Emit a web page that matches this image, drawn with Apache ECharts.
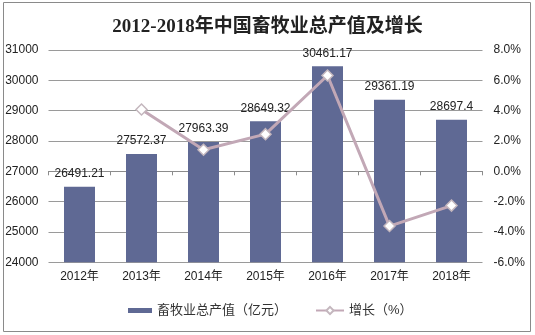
<!DOCTYPE html>
<html>
<head>
<meta charset="utf-8">
<script src="https://cdn.jsdelivr.net/npm/echarts@6/dist/echarts.min.js"></script>
<style>
  html, body { margin: 0; padding: 0; background: #fff; }
  #chart { width: 535px; height: 335px; }
</style>
</head>
<body>
<div id="chart"></div>
<script>
// Output value of China's animal husbandry, 2012-2018
const years = ['2012年', '2013年', '2014年', '2015年', '2016年', '2017年', '2018年'];
const outputValue = [26491.21, 27572.37, 27963.39, 28649.32, 30461.17, 29361.19, 28697.4];
const growthRate = [null, 4.08, 1.42, 2.45, 6.32, -3.61, -2.26];
const leftTicks = { min: 24000, max: 31000, step: 1000 };
const rightTicks = { min: -6, max: 8, step: 2 };

const barName = '畜牧业总产值（亿元）';
const lineName = '增长（%）';
const font = '"Liberation Sans", Arial, "Noto Sans CJK SC", sans-serif';
const chart = echarts.init(document.getElementById('chart'), null, { renderer: 'canvas' });

chart.setOption({
  backgroundColor: '#fff',
  animation: false,
  title: {
    text: '2012-2018年中国畜牧业总产值及增长',
    left: 'center',
    top: 13,
    textStyle: {
      fontFamily: '"Liberation Serif", "Times New Roman", "Noto Sans CJK SC", serif',
      fontWeight: 'bold',
      fontSize: 19,
      color: '#222'
    }
  },
  graphic: [{
    type: 'rect',
    shape: { x: 3.5, y: 2.5, width: 527, height: 329 },
    style: { fill: 'none', stroke: '#8a8a8a', lineWidth: 1 },
    silent: true
  }],
  legend: [
    {
      left: 128,
      top: 304,
      padding: 0,
      itemWidth: 24,
      itemHeight: 5,
      icon: 'rect',
      textStyle: { fontFamily: font, fontSize: 13, color: '#333' },
      data: [barName]
    },
    {
      left: 315,
      top: 304,
      padding: 0,
      itemWidth: 28,
      itemHeight: 9,
      textStyle: { fontFamily: font, fontSize: 13, color: '#333' },
      data: [lineName]
    }
  ],
  grid: { left: 48.5, right: 52.5, top: 50, bottom: 72.7 },
  xAxis: {
    type: 'category',
    data: years,
    axisLine: { lineStyle: { color: '#8c8c8c', width: 1 } },
    axisTick: { show: true, length: 4, lineStyle: { color: '#8c8c8c' } },
    axisLabel: { fontFamily: font, fontSize: 12, color: '#222', margin: 8 }
  },
  yAxis: [
    {
      type: 'value',
      min: leftTicks.min,
      max: leftTicks.max,
      interval: leftTicks.step,
      axisLine: { show: false },
      axisTick: { show: false },
      splitLine: { lineStyle: { color: '#9a9a9a', width: 1 } },
      axisLabel: {
        fontFamily: font, fontSize: 12, color: '#222', margin: 10,
        formatter: v => String(v)
      }
    },
    {
      type: 'value',
      min: rightTicks.min,
      max: rightTicks.max,
      interval: rightTicks.step,
      axisLine: { show: false },
      axisTick: { show: false },
      splitLine: { show: false },
      axisLabel: {
        fontFamily: font, fontSize: 12, color: '#222', margin: 11,
        formatter: v => v.toFixed(1) + '%'
      }
    }
  ],
  series: [
    {
      name: barName,
      type: 'bar',
      yAxisIndex: 0,
      barWidth: '50%',
      data: outputValue,
      itemStyle: { color: '#5f6994' },
      label: {
        show: true,
        position: 'top',
        distance: 7,
        fontFamily: font,
        fontSize: 12,
        color: '#222',
        formatter: p => String(p.value)
      }
    },
    {
      name: lineName,
      type: 'line',
      yAxisIndex: 1,
      data: growthRate,
      symbol: 'diamond',
      symbolSize: 11,
      lineStyle: { color: '#c2a8b6', width: 3 },
      itemStyle: { color: '#ffffff', borderColor: '#c4b7be', borderWidth: 1.5 },
      z: 5
    }
  ]
});
</script>
</body>
</html>
